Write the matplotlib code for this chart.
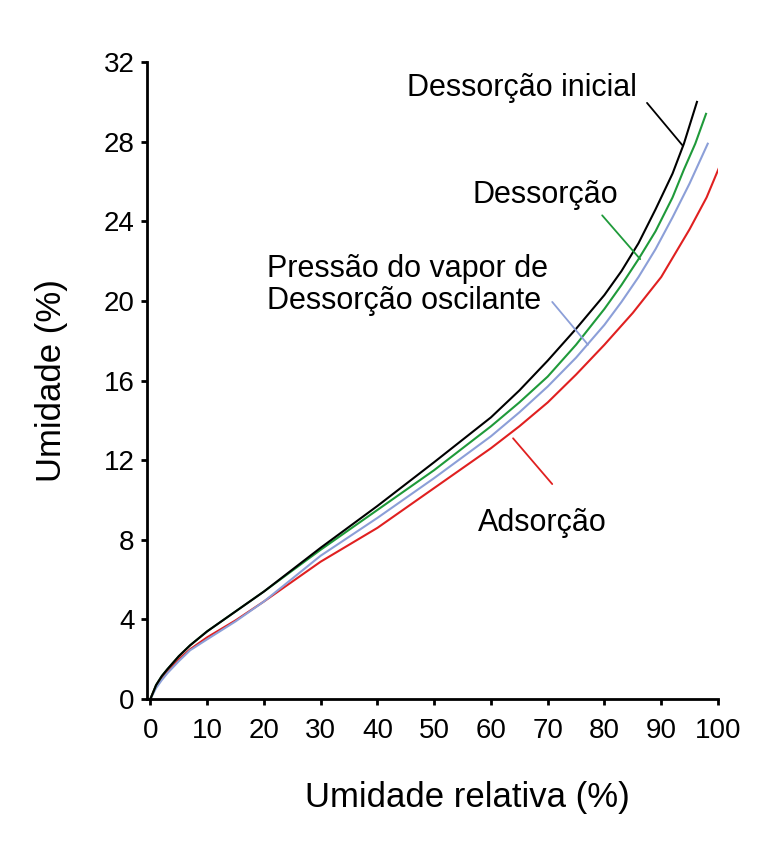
import matplotlib.pyplot as plt

plt.rcParams['font.family'] = ['Liberation Sans', 'DejaVu Sans']

# umidade relativa (%) e umidade (%)
x_inicial = [0, 1, 2, 3, 5, 7, 10, 15, 20, 25, 30, 40, 50, 60, 65, 70, 75, 80,
             83, 86, 89, 92, 94, 96.3]
y_inicial = [0, 0.7, 1.15, 1.5, 2.15, 2.7, 3.4, 4.4, 5.4, 6.5, 7.6, 9.7, 11.9,
             14.15, 15.5, 17.0, 18.6, 20.3, 21.5, 22.9, 24.6, 26.4, 27.9, 30.0]

x_dess = [0, 1, 2, 3, 5, 7, 10, 15, 20, 25, 30, 40, 50, 60, 65, 70, 75, 80,
          83, 86, 89, 92, 94, 96, 97.9]
y_dess = [0, 0.7, 1.15, 1.5, 2.15, 2.7, 3.4, 4.4, 5.4, 6.45, 7.5, 9.5, 11.5,
          13.7, 14.9, 16.2, 17.8, 19.6, 20.8, 22.1, 23.5, 25.2, 26.6, 27.9, 29.4]

x_osc = [0, 1, 2, 3, 5, 7, 10, 15, 20, 25, 30, 40, 50, 60, 65, 70, 75, 80,
         83, 86, 89, 92, 95, 98.2]
y_osc = [0, 0.55, 0.95, 1.3, 1.9, 2.45, 3.0, 3.9, 4.9, 6.05, 7.2, 9.1, 11.1,
         13.2, 14.4, 15.7, 17.15, 18.8, 19.95, 21.2, 22.6, 24.2, 25.9, 27.9]

x_ads = [0, 1, 2, 3, 5, 7, 10, 15, 20, 25, 30, 40, 50, 60, 65, 70, 75, 80,
         85, 90, 95, 98, 100.2]
y_ads = [0, 0.65, 1.05, 1.4, 2.0, 2.5, 3.1, 3.95, 4.9, 5.9, 6.9, 8.6, 10.6,
         12.6, 13.7, 14.9, 16.3, 17.8, 19.4, 21.2, 23.6, 25.2, 26.7]

xticks = [0, 10, 20, 30, 40, 50, 60, 70, 80, 90, 100]
yticks = [0, 4, 8, 12, 16, 20, 24, 28, 32]

preto = 'black'
verde = '#1f9a3a'
azul = '#8c9fd8'
vermelho = '#e02020'

fig = plt.figure(figsize=(7.62, 8.47), dpi=100)
ax = fig.add_axes([0.1929, 0.1747, 0.7493, 0.752])

ax.plot(x_ads, y_ads, color=vermelho, lw=1.5)
ax.plot(x_osc, y_osc, color=azul, lw=1.5)
ax.plot(x_dess, y_dess, color=verde, lw=1.5)
ax.plot(x_inicial, y_inicial, color=preto, lw=1.5)

ax.set_xlim(-0.6, 100)
ax.set_ylim(0, 32)
ax.set_xticks(xticks)
ax.set_yticks(yticks)
ax.tick_params(labelsize=20, width=2, length=4)
ax.tick_params(axis='x', pad=10)
ax.tick_params(axis='y', pad=5)
for s in ['top', 'right']:
    ax.spines[s].set_visible(False)
for s in ['left', 'bottom']:
    ax.spines[s].set_linewidth(2)

ax.set_xlabel('Umidade relativa (%)', fontsize=25)
ax.xaxis.set_label_coords(0.562, -0.128)
ax.set_ylabel('Umidade (%)', fontsize=25, labelpad=26)

# rótulos e linhas de chamada
ax.text(85.7, 30.7, 'Dessorção inicial', fontsize=22, ha='right', va='center')
ax.text(82.4, 25.3, 'Dessorção', fontsize=22, ha='right', va='center')
ax.text(20.6, 20.8, 'Pressão do vapor de\nDessorção oscilante', fontsize=22,
        ha='left', va='center', linespacing=1.1)
ax.text(57.7, 8.85, 'Adsorção', fontsize=22, ha='left', va='center')

chamadas = [((87.5, 29.95), (93.8, 27.8), preto),
            ((79.6, 24.3), (86.3, 22.1), verde),
            ((70.8, 19.95), (77.1, 17.8), azul),
            ((70.8, 10.8), (63.9, 13.1), vermelho)]
for ini, fim, cor in chamadas:
    ax.annotate('', xy=fim, xytext=ini,
                arrowprops=dict(arrowstyle='-', color=cor, lw=1.3,
                                shrinkA=0, shrinkB=0))

fig.savefig('out.png', dpi=100)
